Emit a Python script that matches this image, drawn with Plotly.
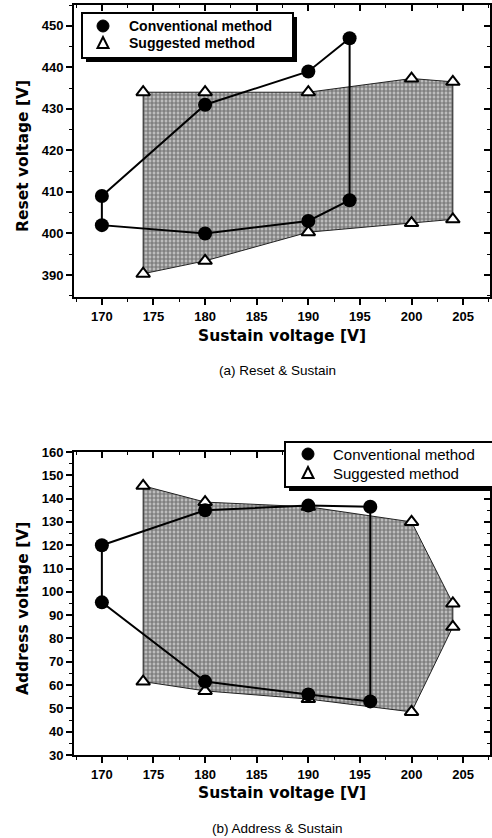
import plotly.graph_objects as go

# ---------------- data ----------------
# (a) Reset & Sustain
conv_a_x = [170, 180, 190, 194, 194, 190, 180, 170, 170]
conv_a_y = [409, 431, 439, 447, 408, 403, 400, 402, 409]
sugg_a_x = [174, 180, 190, 200, 204, 204, 200, 190, 180, 174]
sugg_a_y = [434, 434, 434, 437.3, 436.5, 403.4, 402.5, 400.3, 393.4, 390.3]

# (b) Address & Sustain
conv_b_x = [170, 180, 190, 196, 196, 190, 180, 170, 170]
conv_b_y = [120, 135, 137, 136.5, 53, 56, 61.5, 95.5, 120]
sugg_b_x = [174, 180, 190, 200, 204, 204, 200, 190, 180, 174]
sugg_b_y = [145.5, 138.5, 136.5, 130, 95, 85, 48.5, 54, 57.5, 61.5]

x_ticks = [170, 175, 180, 185, 190, 195, 200, 205]
y_ticks_a = [390, 400, 410, 420, 430, 440, 450]
y_ticks_b = [30, 40, 50, 60, 70, 80, 90, 100, 110, 120, 130, 140, 150, 160]

names = ["Conventional method", "Suggested method"]

W, H = 492, 838
FONT = "Liberation Sans, Arial, sans-serif"
TFONT = "DejaVu Sans, Liberation Sans, sans-serif"


def px_x(p):
    return p / W


def px_y(p):
    return 1 - p / H


fig = go.Figure()

pattern = dict(shape="+", fgcolor="#262626", bgcolor="#bdbdbd", size=4, solidity=0.5)


def add_panel(xa, ya, xa_top, ya_right, cx, cy, sx, sy):
    fig.add_trace(go.Scatter(
        x=sx + [sx[0]], y=sy + [sy[0]], mode="lines", fill="toself",
        fillcolor="#8c8c8c", fillpattern=pattern,
        line=dict(color="#222", width=1), showlegend=False, hoverinfo="skip",
        xaxis=xa, yaxis=ya))
    fig.add_trace(go.Scatter(
        x=cx, y=cy, mode="lines", line=dict(color="black", width=2),
        showlegend=False, xaxis=xa, yaxis=ya))
    fig.add_trace(go.Scatter(
        x=sx, y=sy, mode="markers", name=names[1], showlegend=False,
        marker=dict(symbol="triangle-up", size=12, color="white",
                    line=dict(color="black", width=2)),
        xaxis=xa, yaxis=ya))
    fig.add_trace(go.Scatter(
        x=cx[:-1], y=cy[:-1], mode="markers", name=names[0], showlegend=False,
        marker=dict(symbol="circle", size=14, color="black"),
        xaxis=xa, yaxis=ya))
    # empty traces so the inward tick axes on top / right are drawn
    fig.add_trace(go.Scatter(x=[], y=[], showlegend=False, xaxis=xa_top, yaxis=ya))
    fig.add_trace(go.Scatter(x=[], y=[], showlegend=False, xaxis=xa, yaxis=ya_right))


add_panel("x", "y", "x3", "y3", conv_a_x, conv_a_y, sugg_a_x, sugg_a_y)
add_panel("x2", "y2", "x4", "y4", conv_b_x, conv_b_y, sugg_b_x, sugg_b_y)

tickfont = dict(family=FONT, size=13, color="black", weight="bold")
xdom = [px_x(74), px_x(490)]
xrange = [167.3, 207.6]
yrange_a = [384.7, 455]
yrange_b = [30, 160]

common_x = dict(range=xrange, tickvals=x_ticks, ticks="outside", ticklen=6,
                tickwidth=1.5, tickcolor="black",
                minor=dict(dtick=2.5, tick0=170, ticks="outside", ticklen=3,
                           tickwidth=1.2, tickcolor="black"),
                showline=True, linewidth=2, linecolor="black", mirror=True,
                showgrid=False, zeroline=False, tickfont=tickfont, automargin=False)
common_y = dict(ticks="outside", ticklen=6, tickwidth=1.5, tickcolor="black",
                minor=dict(dtick=5, ticks="outside", ticklen=3, tickwidth=1.2,
                           tickcolor="black"),
                showline=True, linewidth=2, linecolor="black", mirror=True,
                showgrid=False, zeroline=False, tickfont=tickfont, automargin=False)
inner_x = dict(range=xrange, tickvals=x_ticks, ticks="inside", ticklen=6,
               tickwidth=1.5, tickcolor="black",
               minor=dict(dtick=2.5, tick0=170, ticks="inside", ticklen=3,
                          tickwidth=1.2, tickcolor="black"),
               showticklabels=False, showline=False, showgrid=False,
               zeroline=False, automargin=False, side="top")
inner_y = dict(ticks="inside", ticklen=6, tickwidth=1.5, tickcolor="black",
               minor=dict(dtick=5, ticks="inside", ticklen=3, tickwidth=1.2,
                          tickcolor="black"),
               showticklabels=False, showline=False, showgrid=False,
               zeroline=False, automargin=False, side="right")

ydom_a = [px_y(297), px_y(5)]
ydom_b = [px_y(755), px_y(452)]

fig.update_layout(
    width=W, height=H, margin=dict(l=0, r=0, t=0, b=0),
    paper_bgcolor="white", plot_bgcolor="rgba(0,0,0,0)",
    font=dict(family=FONT, color="black"),
    xaxis=dict(domain=xdom, anchor="y", **common_x),
    yaxis=dict(domain=ydom_a, anchor="x", range=yrange_a, tickvals=y_ticks_a, **common_y),
    xaxis2=dict(domain=xdom, anchor="y2", **common_x),
    yaxis2=dict(domain=ydom_b, anchor="x2", range=yrange_b, tickvals=y_ticks_b, **common_y),
    xaxis3=dict(overlaying="x", anchor="y", **inner_x),
    yaxis3=dict(overlaying="y", anchor="x", range=yrange_a, tickvals=y_ticks_a, **inner_y),
    xaxis4=dict(overlaying="x2", anchor="y2", **inner_x),
    yaxis4=dict(overlaying="y2", anchor="x2", range=yrange_b, tickvals=y_ticks_b, **inner_y),
    showlegend=False,
)


# ---------- hand-built legends (box, shadow, symbols, text) ----------
def rect(x0, y0, x1, y1, fill, lw=0):
    fig.add_shape(type="rect", xref="paper", yref="paper",
                  x0=px_x(x0), x1=px_x(x1), y0=px_y(y1), y1=px_y(y0),
                  fillcolor=fill, line=dict(color="black", width=lw), layer="above")


def legend_box(x0, y0, x1, y1, mx, tx, r1, r2, font):
    rect(x0 + 4, y0 + 4, x1 + 4, y1 + 4, "black")
    rect(x0, y0, x1, y1, "white", 2)
    r = 6
    fig.add_shape(type="circle", xref="paper", yref="paper",
                  x0=px_x(mx - r), x1=px_x(mx + r), y0=px_y(r1 + r), y1=px_y(r1 - r),
                  fillcolor="black", line=dict(color="black", width=1), layer="above")
    h = 5
    path = "M {:.5f},{:.5f} L {:.5f},{:.5f} L {:.5f},{:.5f} Z".format(
        px_x(mx - 5.5), px_y(r2 + h), px_x(mx + 5.5), px_y(r2 + h), px_x(mx), px_y(r2 - h - 1))
    fig.add_shape(type="path", xref="paper", yref="paper", path=path,
                  fillcolor="white", line=dict(color="black", width=2), layer="above")
    for txt, yy in ((names[0], r1), (names[1], r2)):
        fig.add_annotation(text=txt, x=px_x(tx), y=px_y(yy), xref="paper", yref="paper",
                           showarrow=False, font=font, xanchor="left", yanchor="middle")


legend_box(82, 13, 293, 58, 103, 127, 26, 43,
           dict(family=FONT, size=14, color="black", weight="bold"))
legend_box(285, 442, 505, 487, 308, 331, 454, 473,
           dict(family=FONT, size=15, color="black"))

title_font = dict(family=TFONT, size=15.5, color="black", weight="bold")
cap_font = dict(family=FONT, size=13.5, color="black")


def ann(text, x, y, font, angle=0):
    fig.add_annotation(text=text, x=px_x(x), y=px_y(y), xref="paper", yref="paper",
                       showarrow=False, font=font, textangle=angle,
                       xanchor="center", yanchor="middle")


ann("Sustain voltage [V]", 282, 336, title_font)
ann("Reset voltage [V]", 23, 156, title_font, -90)
ann("(a) Reset &amp; Sustain", 277, 371, cap_font)
ann("Sustain voltage [V]", 282, 793, title_font)
ann("Address voltage [V]", 23, 609, title_font, -90)
ann("(b) Address &amp; Sustain", 277, 828, cap_font)

fig.write_html("out.html", config={"displayModeBar": False},
               post_script="document.body.style.margin='0px';")
